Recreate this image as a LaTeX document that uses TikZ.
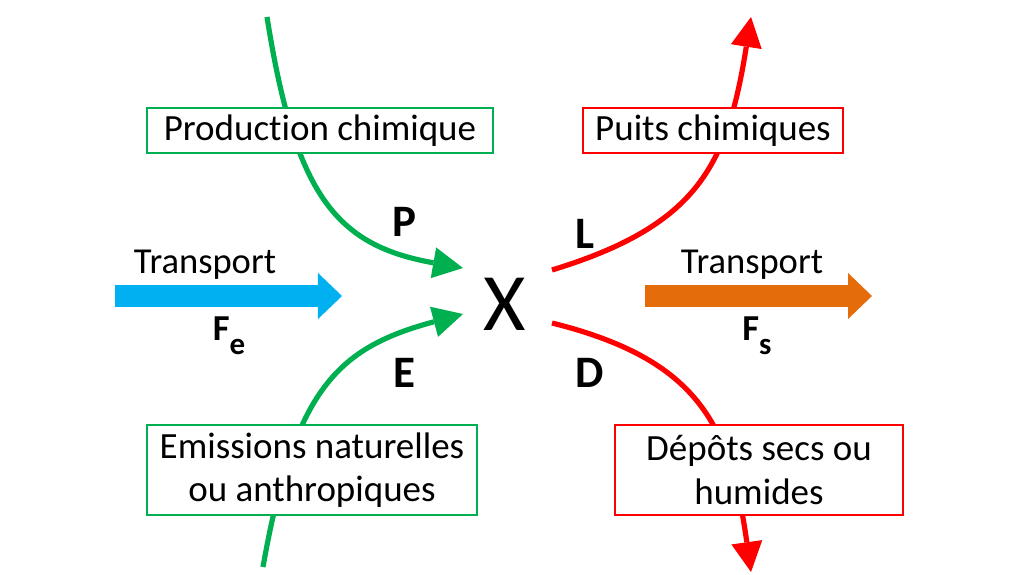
\documentclass[tikz,border=0pt]{standalone}
\usepackage{fontspec}
\setmainfont{Carlito}[Ligatures=NoCommon]
\usetikzlibrary{arrows.meta}
\definecolor{vert}{RGB}{0,176,80}
\definecolor{rouge}{RGB}{255,0,0}
\definecolor{bleu}{RGB}{0,176,240}
\definecolor{orangef}{RGB}{228,108,10}

\begin{document}
\begin{tikzpicture}[x=0.025cm,y=0.025cm,
	box/.style={draw,line width=1.6pt,fill=white,align=center,inner sep=0pt,font=\fontsize{26.3}{31}\selectfont},
	flux/.style={line width=0.13cm,-{Triangle[length=0.75cm,width=0.78cm,line width=0pt]}},
	gros/.style={line width=0.55cm,-{Triangle[length=0.6cm,width=1.15cm,line width=0pt]}},
	lbl/.style={anchor=base,inner sep=0pt,font=\fontsize{32}{32}\selectfont\bfseries},
	txt/.style={anchor=base,inner sep=0pt,font=\fontsize{26}{26}\selectfont}]
				\useasboundingbox (0,0) rectangle (1012,574);
				\coordinate (p0) at (267,557);
				\coordinate (p1) at (463,306);
				\coordinate (e0) at (263,7);
				\coordinate (e1) at (463,260);
				\coordinate (l0) at (552,304);
				\coordinate (l1) at (751,557);
				\coordinate (d0) at (552,251);
				\coordinate (d1) at (751,2);
				\coordinate (te0) at (115,278);
				\coordinate (te1) at (342,278);
				\coordinate (ts0) at (645,278);
				\coordinate (ts1) at (872,278);
				\path[flux,vert]
				(p0) edge[out=-81,in=170,out looseness=1.44,in looseness=1.04] (p1)
				(e0) edge[out=80,in=-165,out looseness=1.43,in looseness=1.03] (e1);
				\path[flux,rouge]
				(l0) edge[out=17,in=-99,looseness=1.2] (l1)
				(d0) edge[out=-14,in=98,looseness=1.2] (d1);
				\path[gros]
				(te0) edge[bleu] (te1)
				(ts0) edge[orangef] (ts1);
				\node[box,draw=vert,minimum width=8.65cm,minimum height=1.125cm] (prod) at (320,443.5) {Production chimique};
				\node[box,draw=rouge,minimum width=6.5cm,minimum height=1.125cm] (puits) at (713,443.5) {Puits chimiques};
				\node[box,draw=vert,minimum width=8.25cm,minimum height=2.25cm] (emis) at (312,104) {Emissions naturelles\\ou anthropiques};
				\node[box,draw=rouge,minimum width=7.2cm,minimum height=2.25cm] (depot) at (759,104) {Dépôts secs ou\\humides};
				\node[anchor=base,inner sep=0pt,font=\fontsize{58}{58}\selectfont] (x) at (505,244) {X};
				\node[lbl] (lp) at (404,337) {P};
				\node[lbl] (ll) at (585,326) {L};
				\node[lbl] (le) at (404,187) {E};
				\node[lbl] (ld) at (590,187) {D};
				\node[txt] (tre) at (205,301) {Transport};
				\node[txt] (trs) at (752,301) {Transport};
				\node[txt,font=\fontsize{26}{26}\selectfont\bfseries] (fe) at (229,234) {F\raisebox{-10pt}{\fontsize{22}{22}\selectfont e}};
				\node[txt,font=\fontsize{26}{26}\selectfont\bfseries] (fs) at (757,234) {F\raisebox{-10pt}{\fontsize{22}{22}\selectfont s}};
			\end{tikzpicture}
\end{document}
